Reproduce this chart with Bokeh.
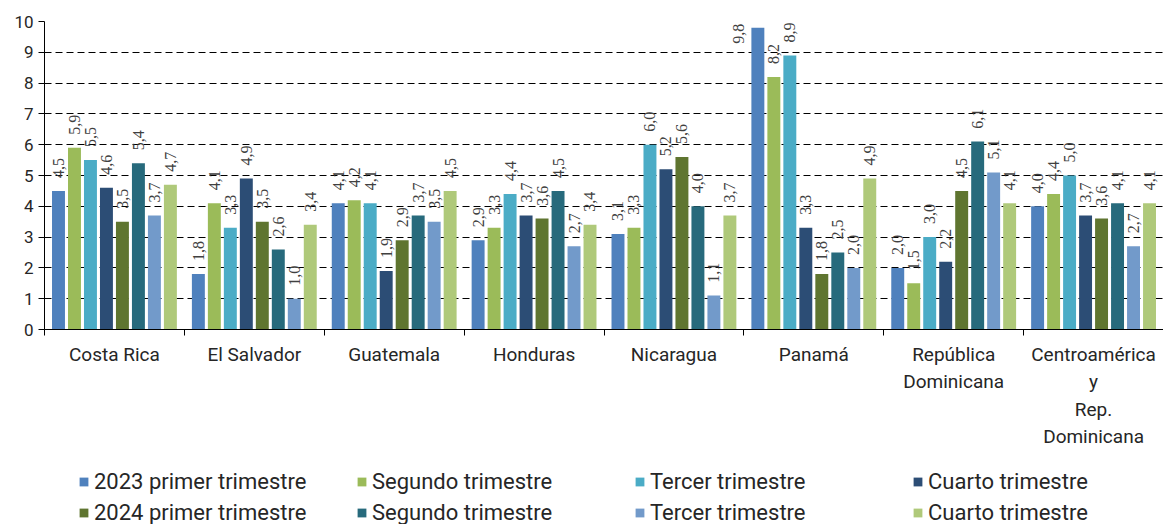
import numpy as np
from bokeh.plotting import figure
from bokeh.layouts import column
from bokeh.models import (ColumnDataSource, FixedTicker, Legend, LegendItem,
                          LabelSet, Range1d)
from bokeh.transform import dodge
from bokeh.embed import file_html
from bokeh.resources import INLINE

# ---------------- data ----------------
countries = ["Costa Rica", "El Salvador", "Guatemala", "Honduras", "Nicaragua",
             "Panamá", "República\nDominicana",
             "Centroamérica\ny\nRep.\nDominicana"]

series_names = ["2023 primer trimestre", "Segundo trimestre", "Tercer trimestre",
                "Cuarto trimestre", "2024 primer trimestre", "Segundo trimestre",
                "Tercer trimestre", "Cuarto trimestre"]

s2023_q1 = [4.5, 1.8, 4.1, 2.9, 3.1, 9.8, 2.0, 4.0]
s2023_q2 = [5.9, 4.1, 4.2, 3.3, 3.3, 8.2, 1.5, 4.4]
s2023_q3 = [5.5, 3.3, 4.1, 4.4, 6.0, 8.9, 3.0, 5.0]
s2023_q4 = [4.6, 4.9, 1.9, 3.7, 5.2, 3.3, 2.2, 3.7]
s2024_q1 = [3.5, 3.5, 2.9, 3.6, 5.6, 1.8, 4.5, 3.6]
s2024_q2 = [5.4, 2.6, 3.7, 4.5, 4.0, 2.5, 6.1, 4.1]
s2024_q3 = [3.7, 1.0, 3.5, 2.7, 1.1, 2.0, 5.1, 2.7]
s2024_q4 = [4.7, 3.4, 4.5, 3.4, 3.7, 4.9, 4.1, 4.1]

series_values = [s2023_q1, s2023_q2, s2023_q3, s2023_q4,
                 s2024_q1, s2024_q2, s2024_q3, s2024_q4]

colors = ["#4F81BD", "#9BBB59", "#4BACC6", "#2C4D75",
          "#5F7530", "#276A7C", "#729ACA", "#AFC97A"]

y_ticks = list(range(0, 11))

# ---------------- style ----------------
FONT = "Roboto"
TEXT_COLOR = "#262626"
n_cat = len(countries)
n_ser = len(series_values)
slot = 0.9143 / n_ser      # pitch of one bar inside a category
bar_w = slot * 0.81
FIG_W = 1163

p = figure(frame_width=FIG_W - 44, frame_height=308,
           x_range=Range1d(0, n_cat), y_range=Range1d(0, 10),
           output_backend="svg", toolbar_location=None,
           min_border_left=44, min_border_top=21, min_border_right=0,
           min_border_bottom=130)
p.outline_line_color = None
p.background_fill_color = "white"
p.border_fill_color = "white"

centers = [i + 0.5 for i in range(n_cat)]

for k, (vals, col) in enumerate(zip(series_values, colors)):
    off = (k - (n_ser - 1) / 2) * slot
    labs = [f"{v:.1f}".replace(".", ",") for v in vals]
    src = ColumnDataSource(dict(x=centers, v=vals, lab=labs))
    p.vbar(x=dodge("x", off), top="v", width=bar_w, source=src,
           fill_color=col, line_color=None)

    lo = [j for j, v in enumerate(vals) if v <= 9.5]
    hi = [j for j, v in enumerate(vals) if v > 9.5]
    src_lo = ColumnDataSource(dict(x=[centers[j] for j in lo],
                                   v=[vals[j] for j in lo],
                                   lab=[labs[j] for j in lo]))
    p.add_layout(LabelSet(x=dodge("x", off), y="v", text="lab", source=src_lo,
                          angle=np.pi / 2, text_align="left",
                          text_baseline="middle", y_offset=13,
                          text_font=FONT, text_font_size="16px",
                          text_color="#404040"))
    if hi:
        src_hi = ColumnDataSource(dict(x=[centers[j] for j in hi],
                                       v=[vals[j] for j in hi],
                                       lab=[labs[j] for j in hi]))
        p.add_layout(LabelSet(x=dodge("x", off - 1.2 * slot), y="v", text="lab",
                              source=src_hi, angle=np.pi / 2,
                              text_align="right", text_baseline="middle",
                              y_offset=4, text_font=FONT,
                              text_font_size="16px", text_color="#404040"))

# ---------------- axes ----------------
xa = p.xaxis[0]
xa.ticker = FixedTicker(ticks=centers, minor_ticks=list(range(n_cat + 1)))
xa.major_label_overrides = {c: name for c, name in zip(centers, countries)}
xa.major_tick_line_color = None
xa.minor_tick_line_color = "black"
xa.minor_tick_in = 0
xa.minor_tick_out = 6
xa.axis_line_color = "black"
xa.major_label_standoff = 7
xa.major_label_text_font = FONT
xa.major_label_text_font_size = "19px"
xa.major_label_text_color = TEXT_COLOR

ya = p.yaxis[0]
ya.ticker = FixedTicker(ticks=y_ticks, minor_ticks=[])
ya.major_tick_in = 0
ya.major_tick_out = 6
ya.major_tick_line_color = "black"
ya.axis_line_color = "black"
ya.major_label_standoff = 5
ya.major_label_text_font = FONT
ya.major_label_text_font_size = "17px"
ya.major_label_text_color = TEXT_COLOR

p.xgrid.grid_line_color = None
p.ygrid.grid_line_color = "black"
p.ygrid.grid_line_dash = "7 4"
p.ygrid.grid_line_width = 1

# ---------------- legend (separate strip) ----------------
p2 = figure(width=FIG_W, height=65, x_range=Range1d(0, 1), y_range=Range1d(0, 1),
            output_backend="svg", toolbar_location=None,
            min_border_left=0, min_border_right=0, min_border_top=0,
            min_border_bottom=0)
p2.axis.visible = False
p2.grid.grid_line_color = None
p2.outline_line_color = None

items = []
for name, col in zip(series_names, colors):
    # swatch renderer kept outside the visible range; only used by the legend
    r = p2.vbar(x=[5], top=[5], bottom=[4], width=0.1,
                fill_color=col, line_color=None)
    items.append(LegendItem(label=name, renderers=[r]))

legend = Legend(items=items, orientation="horizontal", nrows=2,
                glyph_width=11, glyph_height=11, label_standoff=5,
                label_text_font=FONT, label_text_font_size="22px",
                label_text_color=TEXT_COLOR, spacing=6,
                label_width=256, label_height=24,
                border_line_color=None, background_fill_alpha=0,
                padding=0, margin=0, location=(34, -1))
p2.add_layout(legend, "center")

layout = column(p, p2, spacing=0)
open("out.html", "w").write(file_html(layout, INLINE))
